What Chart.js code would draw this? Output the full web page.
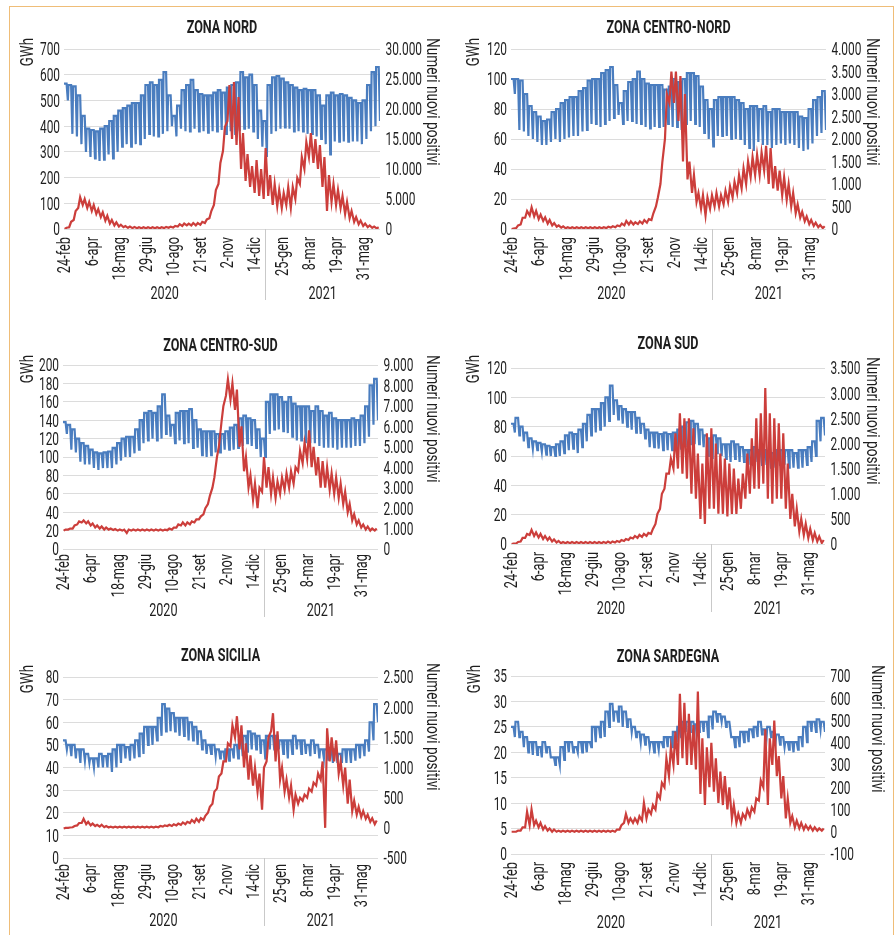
<!DOCTYPE html>
<html>
<head>
<meta charset="utf-8">
<script src="https://cdn.jsdelivr.net/npm/chart.js@4.4.0/dist/chart.umd.min.js"></script>
<style>
html,body{margin:0;padding:0;background:#fff;}
body{width:896px;height:935px;position:relative;overflow:hidden;}
#frame{position:absolute;left:9px;top:6px;width:885px;height:960px;border:1.5px solid #efbd78;border-bottom:none;box-sizing:border-box;}
canvas{position:absolute;}
</style>
</head>
<body>
<div id="frame"></div>
<canvas id="c0" width="448" height="315" style="left:0;top:0"></canvas>
<canvas id="c1" width="448" height="315" style="left:448px;top:0"></canvas>
<canvas id="c2" width="448" height="310" style="left:0;top:315px"></canvas>
<canvas id="c3" width="448" height="310" style="left:448px;top:315px"></canvas>
<canvas id="c4" width="448" height="310" style="left:0;top:625px"></canvas>
<canvas id="c5" width="448" height="310" style="left:448px;top:625px"></canvas>
<script>
// ---------- DATA ----------
// x axis: days since Monday 24-feb-2020; one value per week (70 weeks)
const tickLabels = ['24-feb','6-apr','18-mag','29-giu','10-ago','21-set','2-nov','14-dic','25-gen','8-mar','19-apr','31-mag'];
const tickDays   = [0,42,84,126,168,210,252,294,336,378,420,462];
const yearLabels = ['2020','2021'];
const yearBreakDay = 311.5;
const lastDay = 489;
const zoneNames = ['ZONA NORD','ZONA CENTRO-NORD','ZONA CENTRO-SUD','ZONA SUD','ZONA SICILIA','ZONA SARDEGNA'];
const leftTitle = 'GWh';
const rightTitle = 'Numeri nuovi positivi';

// weekly highs / lows of daily consumption (GWh) and daily new positives
const nordGwhHi = [565,560,555,520,440,390,385,380,390,400, 420,440,460,470,480,490,490,520,560,570, 560,580,610,520,440,480,540,560,580,540, 525,520,520,530,540,530,550,560,570,610, 590,600,560,460,420,560,590,595,585,570, 560,550,540,545,540,540,520,480,520,530, 520,525,520,510,500,490,500,560,610,630];
const nordGwhLo = [500,370,360,330,300,280,275,265,270,290, 275,300,320,330,320,330,330,350,370,360, 360,370,380,400,360,390,380,380,390,380, 380,375,380,380,385,370,380,370,380,390, 390,380,350,320,280,370,380,390,395,390, 380,380,380,370,370,360,350,330,290,340, 340,340,340,340,340,330,350,380,400,420];
const nordCasiHi = [200,1200,3000,5300,5000,4500,4000,3300,2800,2200, 1500,1100,700,500,400,350,300,300,300,300, 300,300,350,400,500,800,900,900,1000,1000, 1200,1600,3000,6500,11000,17000,24000,24500,22000,16000, 12500,10500,11500,10000,13500,9000,7500,6500,6000,7000, 7000,8500,12000,14500,16000,15000,14000,12000,9000,7500, 6500,5500,4500,3000,2000,1400,900,600,400,300];
const nordCasiLo = [0,300,1500,3500,4000,3500,3000,2500,2000,1400, 900,600,400,300,200,150,120,120,120,120, 120,120,150,200,250,400,500,600,600,600, 700,1000,1800,4000,7500,13000,18000,15000,14000,10000, 8000,7000,6000,5500,5000,5500,4000,3800,3500,4000, 3500,5000,7500,10000,12000,11000,10000,7000,3000,4500, 4000,3500,2500,1800,1200,800,500,300,200,100];

const cnGwhHi = [100,100,99,90,82,78,75,72,73,78, 80,84,86,88,88,92,94,99,100,100, 104,106,108,96,84,92,98,100,105,100, 97,96,96,96,93,95,100,98,100,104, 104,102,95,86,80,86,88,88,88,88, 86,84,80,82,82,80,82,78,80,80, 78,78,78,78,75,74,80,86,88,92];
const cnGwhLo = [90,66,65,62,60,58,56,56,58,60, 58,60,61,62,62,65,66,70,70,68, 70,72,74,76,70,72,72,70,70,68, 67,68,68,68,70,68,68,66,70,72, 70,68,64,60,55,62,62,62,60,60, 60,56,54,52,58,56,56,54,56,57, 56,57,56,54,52,53,57,62,64,66];
const cnCasiHi = [10,80,250,400,480,400,320,260,200,130, 80,60,40,40,40,40,40,40,40,40, 40,50,60,80,120,180,170,150,170,200, 220,350,700,1500,3000,3500,3500,3400,3000,1500, 1200,800,750,700,750,800,750,850,950,1050, 1200,1350,1500,1600,1650,1700,1850,1800,1400,1300, 1150,1000,800,550,380,280,200,140,90,60];
const cnCasiLo = [0,20,100,250,300,280,220,180,120,80, 50,30,15,15,15,15,15,15,15,15, 15,20,30,40,60,80,100,100,110,120, 140,200,500,1000,2000,2800,2800,2400,1500,1100, 800,600,450,300,450,500,500,550,600,700, 800,900,1000,1150,1200,1200,1300,1000,900,850, 750,650,500,350,250,170,110,70,40,20];

const csGwhHi = [138,135,130,120,115,112,108,105,104,105, 106,110,115,120,122,122,130,140,148,150, 148,155,168,145,135,148,150,150,152,140, 130,128,128,128,125,125,128,132,135,142, 145,142,140,130,120,160,168,168,165,160, 165,158,155,155,155,150,155,150,145,148, 142,140,140,140,142,140,145,155,178,185];
const csGwhLo = [125,108,105,95,92,92,88,86,88,88, 88,92,96,100,100,104,108,115,118,120, 118,120,125,122,115,118,115,115,110,110, 102,100,102,105,105,108,108,108,110,112, 115,112,110,100,100,125,130,130,128,126, 122,118,118,115,115,115,112,110,110,110, 108,110,110,110,112,112,115,122,135,140];
const csCasiHi = [950,1000,1150,1350,1400,1350,1250,1150,1100,1050, 1000,980,950,950,950,950,950,950,950,950, 950,950,950,1000,1050,1200,1300,1300,1350,1450, 1600,2000,2600,3500,5000,7000,8300,8100,7800,6000, 4500,3600,3200,3000,4500,4000,3500,3300,3500,3700, 3800,4000,4800,5200,5800,5000,4500,4300,4000,3700, 3500,3200,2800,2200,1700,1400,1200,1100,1000,1000];
const csCasiLo = [900,950,1000,1200,1300,1250,1150,1050,1000,950, 950,930,900,900,780,900,900,900,900,900, 900,900,900,920,950,1050,1150,1150,1200,1300, 1450,1700,2200,3000,4500,6200,7500,7300,6800,5000, 3800,3000,2400,2000,2800,3000,2700,2500,2700,2900, 3000,3200,3800,4200,4400,4000,3600,3000,3000,2900, 2700,2500,2200,1800,1400,1200,1050,950,900,900];

const sudGwhHi = [82,86,80,76,72,70,69,68,67,66, 68,70,74,76,75,78,82,88,92,92, 96,100,108,98,94,92,90,90,86,82, 78,76,76,75,76,75,76,78,80,83, 84,82,78,74,72,74,72,68,68,70, 68,66,64,64,66,64,64,62,62,64, 64,64,64,62,64,64,66,70,84,86];
const sudGwhLo = [76,74,70,66,65,64,63,61,60,60, 60,62,64,65,62,66,70,74,76,78, 80,84,88,85,82,80,78,76,75,72, 66,66,65,64,64,64,64,65,66,68, 68,68,66,60,58,62,60,58,56,58, 56,56,54,54,56,54,54,52,52,54, 54,52,52,52,52,54,56,60,70,74];
const sudCasiHi = [10,40,120,200,280,230,200,160,130,90, 60,40,40,40,40,40,40,40,40,40, 40,50,50,60,80,100,130,160,180,200, 220,300,600,1000,1400,1700,2200,2600,2500,2500, 2300,1800,1600,2200,2300,2000,1800,1700,1600,1500, 1300,1400,1800,2100,2500,2600,3100,2600,2500,2400, 2200,1600,1000,700,500,400,300,220,150,80];
const sudCasiLo = [0,10,50,120,180,160,130,100,80,50, 30,15,15,15,15,15,15,15,15,15, 15,20,20,30,40,60,80,110,120,140, 160,200,400,700,1100,1400,1500,1500,1400,1300, 1000,900,500,400,700,700,600,600,550,600, 600,700,900,1000,1100,1100,1200,900,800,900, 900,700,500,350,250,180,120,80,50,20];

const sicGwhHi = [52,50,50,48,48,46,44,44,46,45, 46,48,50,50,49,50,52,55,58,58, 58,62,68,66,64,62,62,62,60,58, 56,52,50,50,48,47,48,48,50,52, 54,56,55,54,52,54,54,54,52,52, 52,54,52,52,50,52,50,48,48,48, 48,46,48,48,48,50,50,52,60,68];
const sicGwhLo = [48,45,44,42,43,42,40,40,40,40, 38,40,42,44,43,44,45,46,50,50, 52,54,56,56,56,54,54,52,52,50, 48,46,46,45,44,43,43,44,44,45, 47,48,48,46,44,48,48,48,46,44, 46,48,46,46,45,46,44,44,43,42, 42,42,42,42,43,44,45,47,52,60];
const sicCasiHi = [0,5,30,80,150,100,70,50,50,30, 20,20,20,20,20,20,20,20,20,20, 20,30,40,50,60,70,90,100,130,150, 160,200,350,600,850,1100,1400,1700,1850,1700, 1400,1200,1000,900,1000,1500,1900,1600,1000,800, 700,550,500,550,650,750,900,1100,1650,1500, 1450,1100,1000,800,450,350,280,220,160,120];
const sicCasiLo = [-10,0,10,40,80,60,40,30,20,10, 5,5,5,5,5,5,5,5,5,5, 5,10,20,30,30,40,50,60,80,90, 100,130,250,400,650,900,1100,1350,1500,1300, 1000,800,700,600,300,1100,1600,1100,800,600, 500,300,400,450,500,600,700,800,0,1100, 1100,900,700,400,280,220,180,150,100,60];

const sarGwhHi = [25,26,24,23,22,22,21,22,21,19, 19,21,22,22,21,22,22,22,25,25, 26,28,29.5,28,29,28,26.5,25,24,23.5, 23,22,22,22,23,23,24,25,26,26, 26,25.5,26,26,27,28,27.5,27,26,23, 23,24,24,24.5,25,26,24.5,25,24,23.5, 23,22,22,22,23,25,26,26,26.5,26];
const sarGwhLo = [23,23,21,20,19.5,19.5,19,20,19,17.5, 17.5,18.5,20,20,20,20,20,21,22,23, 23,25,26,26,25,25,24,23,22,21.5, 21,20,20.5,21,21,21,22,23,24,24, 24,24,24,23,24.5,26,26,25,24,21, 21,22,22,23,23,23.5,23,23,22,21.5, 21,20.5,20,20.5,21,22,24,24,24.5,24];
const sarCasiHi = [0,5,20,90,100,50,40,25,15,10, 5,5,5,5,5,5,5,5,5,5, 5,5,5,10,30,80,60,60,70,130, 100,120,170,220,330,380,450,620,580,530, 480,630,420,380,400,330,270,250,200,120, 80,80,100,110,150,230,460,420,500,340, 250,150,70,50,40,30,25,20,15,15];
const sarCasiLo = [0,0,5,20,30,30,20,10,5,0, 0,0,0,0,0,0,0,0,0,0, 0,0,0,0,10,40,40,40,40,50, 60,80,100,150,200,250,300,300,330,300, 300,280,170,120,200,180,130,120,100,60, 40,40,60,70,90,140,200,120,300,250, 150,60,40,20,15,10,10,5,5,5];

// axis ranges [min, max, step] (left GWh, right new positives)
const gwhAxes  = [[0,700,100],[0,120,20],[0,200,20],[0,120,20],[0,80,10],[0,35,5]];
const casiAxes = [[0,30000,5000],[0,4000,500],[0,9000,1000],[0,3500,500],[-500,2500,500],[-100,700,100]];

const seriesGwh  = [[nordGwhHi,nordGwhLo],[cnGwhHi,cnGwhLo],[csGwhHi,csGwhLo],[sudGwhHi,sudGwhLo],[sicGwhHi,sicGwhLo],[sarGwhHi,sarGwhLo]];
const seriesCasi = [[nordCasiHi,nordCasiLo],[cnCasiHi,cnCasiLo],[csCasiHi,csCasiLo],[sudCasiHi,sudCasiLo],[sicCasiHi,sicCasiLo],[sarCasiHi,sarCasiLo]];

// ---------- LAYOUT (pixels inside each canvas) ----------
const layouts = [
  {w:448,h:315,l:64,r:380,t:49,b:229,titleY:27,gwhX:27,gwhTop:38,numX:433,numTop:38,xLabDy:8,yearDy:64,sepLen:71},
  {w:448,h:315,l:63,r:378,t:49,b:229,titleY:27,gwhX:25,gwhTop:38,numX:425,numTop:38,xLabDy:8,yearDy:64,sepLen:71},
  {w:448,h:310,l:63,r:378,t:50,b:234,titleY:30,gwhX:27,gwhTop:40,numX:433,numTop:40,xLabDy:5,yearDy:61,sepLen:68},
  {w:448,h:310,l:63,r:377,t:53,b:229,titleY:28,gwhX:25,gwhTop:40,numX:425,numTop:42,xLabDy:8,yearDy:64,sepLen:68},
  {w:448,h:310,l:63,r:378,t:52,b:233,titleY:30,gwhX:27,gwhTop:40,numX:433,numTop:38,xLabDy:6,yearDy:62,sepLen:68},
  {w:448,h:310,l:63,r:377,t:51,b:229,titleY:31,gwhX:26,gwhTop:40,numX:430,numTop:40,xLabDy:8,yearDy:68,sepLen:72}
];

const FONT = "Roboto,'Liberation Sans',sans-serif";
const BLUE = '#4a7dbf';
const RED  = '#cc3e3b';
const TXT  = '#1e1e1e';

function fmtIt(v){
  const s = Math.abs(Math.round(v)).toString().replace(/\B(?=(\d{3})+(?!\d))/g,'.');
  return (v < 0 ? '-' : '') + s;
}
// weekdays at the weekly high, Sunday at the weekly low
function bluePoints(hi, lo){
  const pts = [];
  hi.forEach((h,w) => { pts.push({x:7*w, y:h}, {x:7*w+4, y:h}, {x:7*w+6, y:lo[w]}); });
  return pts;
}
// low report early in the week, high mid-week
function redPoints(hi, lo){
  const pts = [];
  hi.forEach((h,w) => { pts.push({x:7*w+1, y:lo[w]}, {x:7*w+4, y:h}); });
  return pts;
}

// condensed text: (x,y) is the centre of the cap height
function txt(ctx, s, x, y, o){
  ctx.save();
  ctx.translate(x, y);
  if (o.rot) ctx.rotate(o.rot);
  ctx.scale(o.sx, 1);
  ctx.font = (o.bold ? 'bold ' : '') + o.size + 'px ' + FONT;
  ctx.textAlign = o.align || 'center';
  ctx.textBaseline = 'alphabetic';
  ctx.fillStyle = TXT;
  ctx.fillText(s, 0, o.size * 0.355);
  ctx.restore();
}

const deco = {
  id: 'deco',
  afterDraw(chart, args, o){
    const {ctx, chartArea:a, scales:{x, y, y1}} = chart;
    ctx.save();
    txt(ctx, o.title, (a.left + a.right)/2, o.titleY, {size:18, bold:true, sx:0.7});
    txt(ctx, leftTitle, o.gwhX, o.gwhTop, {size:18, sx:0.74, rot:-Math.PI/2, align:'right'});
    txt(ctx, rightTitle, o.numX, o.numTop, {size:18, sx:0.76, rot:Math.PI/2, align:'left'});
    y.ticks.forEach(t => txt(ctx, fmtIt(t.value), a.left - 4, y.getPixelForValue(t.value), {size:18, sx:0.66, align:'right'}));
    y1.ticks.forEach(t => txt(ctx, fmtIt(t.value), a.right + 5.5, y1.getPixelForValue(t.value), {size:18, sx:0.66, align:'left'}));
    x.ticks.forEach(t => {
      const lab = tickLabels[tickDays.indexOf(t.value)];
      if (lab !== undefined) txt(ctx, lab, x.getPixelForValue(t.value), a.bottom + o.xLabDy, {size:18, sx:0.71, rot:-Math.PI/2, align:'right'});
    });
    const sx = Math.round(x.getPixelForValue(yearBreakDay)) + 0.5;
    ctx.strokeStyle = '#c9c9c9'; ctx.lineWidth = 1;
    ctx.beginPath(); ctx.moveTo(sx, a.bottom); ctx.lineTo(sx, a.bottom + o.sepLen); ctx.stroke();
    txt(ctx, yearLabels[0], x.getPixelForValue((x.min + yearBreakDay)/2), a.bottom + o.yearDy, {size:18, sx:0.7});
    txt(ctx, yearLabels[1], x.getPixelForValue((yearBreakDay + x.max)/2), a.bottom + o.yearDy, {size:18, sx:0.7});
    ctx.restore();
  }
};

Chart.defaults.font.family = FONT;

zoneNames.forEach((name, i) => {
  const L = layouts[i];
  const [gMin,gMax,gStep] = gwhAxes[i];
  const [cMin,cMax,cStep] = casiAxes[i];
  new Chart(document.getElementById('c'+i), {
    type: 'line',
    data: {
      datasets: [
        {label:'Numeri nuovi positivi', data: redPoints(seriesCasi[i][0], seriesCasi[i][1]), yAxisID:'y1', borderColor:RED, borderWidth:2.2, pointRadius:0, tension:0, fill:false},
        {label:'GWh', data: bluePoints(seriesGwh[i][0], seriesGwh[i][1]), yAxisID:'y', borderColor:BLUE, borderWidth:2.2, pointRadius:0, tension:0, fill:false}
      ]
    },
    options: {
      responsive:false, animation:false, devicePixelRatio:1,
      layout:{padding:{top:L.t, left:0, right:0, bottom:0}},
      plugins:{
        legend:{display:false}, tooltip:{enabled:false},
        deco:{title:name, titleY:L.titleY, gwhX:L.gwhX, gwhTop:L.gwhTop, numX:L.numX, numTop:L.numTop, xLabDy:L.xLabDy, yearDy:L.yearDy, sepLen:L.sepLen}
      },
      scales:{
        x:{
          type:'linear', min:0, max:lastDay,
          grid:{display:false}, border:{display:false},
          afterBuildTicks: s => { s.ticks = tickDays.map(v => ({value:v})); },
          afterFit: s => { s.height = L.h - L.b; },
          ticks:{display:false, autoSkip:false}
        },
        y:{
          position:'left', min:gMin, max:gMax,
          grid:{color:'#dcdcdc', drawTicks:false, lineWidth:1}, border:{display:false},
          afterFit: s => { s.width = L.l; },
          ticks:{display:false, stepSize:gStep}
        },
        y1:{
          position:'right', min:cMin, max:cMax,
          grid:{display:false, drawTicks:false}, border:{display:false},
          afterFit: s => { s.width = L.w - L.r; },
          ticks:{display:false, stepSize:cStep}
        }
      }
    },
    plugins:[deco]
  });
});
</script>
</body>
</html>
